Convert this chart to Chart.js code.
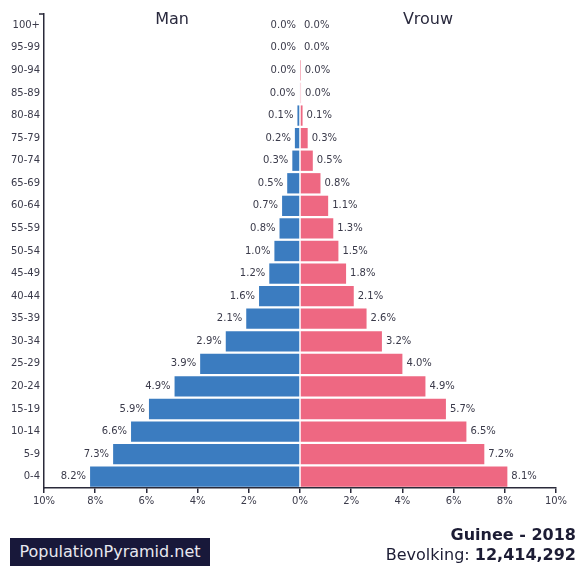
<!DOCTYPE html>
<html>
<head>
<meta charset="utf-8">
<script src="https://cdn.jsdelivr.net/npm/chart.js@4"></script>
<style>
html,body{margin:0;padding:0;background:#fff;}
#wrap{position:relative;width:586px;height:566px;}
canvas{position:absolute;left:0;top:0;}
.logo{position:absolute;left:10px;top:538px;width:200px;height:28px;background:#18183a;color:#e8e8f0;font:16px "DejaVu Sans",sans-serif;line-height:28px;text-align:center;}
.info{position:absolute;right:10px;top:525px;text-align:right;color:#1c1c34;font-family:"DejaVu Sans",sans-serif;}
.info .t{font-weight:bold;font-size:16px;line-height:20px;}
.info .p{font-size:16px;line-height:19px;}
</style>
</head>
<body>
<div id="wrap">
<canvas id="c" width="586" height="566"></canvas>
<div class="logo">PopulationPyramid.net</div>
<div class="info"><div class="t">Guinee - 2018</div><div class="p">Bevolking: <b>12,414,292</b></div></div>
</div>
<script>
const ageGroups = ["100+","95-99","90-94","85-89","80-84","75-79","70-74","65-69","60-64","55-59","50-54","45-49","40-44","35-39","30-34","25-29","20-24","15-19","10-14","5-9","0-4"];
const maleValues = [0.0,0.0,0.0,0.03,0.1,0.2,0.3,0.5,0.7,0.8,1.0,1.2,1.6,2.1,2.9,3.9,4.9,5.9,6.6,7.3,8.2];
const femaleValues = [0.0,0.0,0.01,0.04,0.1,0.3,0.5,0.8,1.1,1.3,1.5,1.8,2.1,2.6,3.2,4.0,4.9,5.7,6.5,7.2,8.1];
const xTicks = [-10,-8,-6,-4,-2,0,2,4,6,8,10];
const sideTitles = ["Man","Vrouw"];

const textColor = "#3a3a4a";
const axisColor = "#2a2a3a";

const labelPlugin = {
  id: "labels",
  afterDatasetsDraw(chart) {
    const ctx = chart.ctx;
    ctx.save();
    ctx.font = '10px "DejaVu Sans", sans-serif';
    ctx.fillStyle = textColor;
    ctx.textBaseline = "middle";
    chart.data.datasets.forEach((ds, di) => {
      const meta = chart.getDatasetMeta(di);
      meta.data.forEach((el, i) => {
        const v = Math.abs(ds.data[i]);
        const txt = v.toFixed(1) + "%";
        if (di === 0) {
          ctx.textAlign = "right";
          ctx.fillText(txt, Math.min(el.x, el.base) - 4, el.y);
        } else {
          ctx.textAlign = "left";
          ctx.fillText(txt, Math.max(el.x, el.base) + 4, el.y);
        }
      });
    });
    const xs = chart.scales.x;
    ctx.font = '16px "DejaVu Sans", sans-serif';
    ctx.fillStyle = "#2a2a3e";
    ctx.textAlign = "center";
    ctx.textBaseline = "middle";
    ctx.fillText(sideTitles[0], xs.getPixelForValue(-5), 20);
    ctx.fillText(sideTitles[1], xs.getPixelForValue(5), 20);
    const a = chart.chartArea;
    ctx.strokeStyle = axisColor;
    ctx.lineWidth = 1.5;
    ctx.beginPath();
    ctx.moveTo(a.left - 5, a.top);
    ctx.lineTo(a.left, a.top);
    ctx.stroke();
    ctx.restore();
  }
};

new Chart(document.getElementById("c"), {
  type: "bar",
  data: {
    labels: ageGroups,
    datasets: [
      { label: "Man", data: maleValues.map(v => -v), backgroundColor: "#3b7cc0", borderWidth: 0 },
      { label: "Vrouw", data: femaleValues, backgroundColor: "#ee6882", borderWidth: 0 }
    ]
  },
  options: {
    indexAxis: "y",
    responsive: false,
    animation: false,
    devicePixelRatio: 1,
    layout: { padding: { left: 0, right: 30, top: 14, bottom: 48 } },
    plugins: { legend: { display: false }, tooltip: { enabled: false } },
    datasets: { bar: { barPercentage: 0.9, categoryPercentage: 1.0 } },
    scales: {
      x: {
        stacked: true,
        min: -10, max: 10,
        afterBuildTicks(scale) { scale.ticks = xTicks.map(v => ({ value: v })); },
        afterFit(scale) { scale.height = 30; },
        ticks: {
          callback: v => Math.abs(v) + "%",
          color: textColor,
          font: { family: "DejaVu Sans", size: 10 },
          padding: 2,
          maxRotation: 0,
          autoSkip: false
        },
        grid: { drawOnChartArea: false, drawTicks: true, tickLength: 5, color: axisColor, lineWidth: 1.5 },
        border: { display: true, color: axisColor, width: 1.5 }
      },
      y: {
        stacked: true,
        afterFit(scale) { scale.width = 44; },
        ticks: {
          color: textColor,
          font: { family: "DejaVu Sans", size: 10 },
          padding: 4,
          autoSkip: false
        },
        grid: { display: false, drawTicks: false },
        border: { display: true, color: axisColor, width: 1.5 }
      }
    }
  },
  plugins: [labelPlugin]
});
</script>
</body>
</html>
